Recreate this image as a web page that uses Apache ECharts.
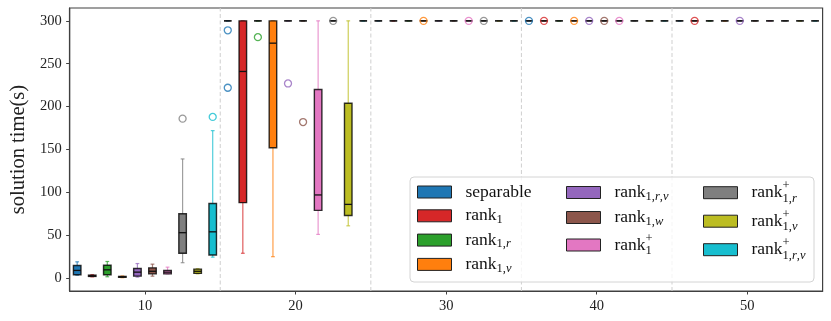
<!DOCTYPE html>
<html><head><meta charset="utf-8">
<script src="https://cdn.jsdelivr.net/npm/echarts@6/dist/echarts.min.js"></script>
<style>html,body{margin:0;padding:0;background:#fff}#c{width:831px;height:321px}</style>
</head><body><div id="c"></div>
<script>
// ---------------- data ----------------
const seriesNames = ['separable','rank1','rank1r','rank1v','rank1rv','rank1w','rank1p','rank1rp','rank1vp','rank1rvp'];
const groupStarts = [5, 15, 25, 35, 45];
const xTicks = [10, 20, 30, 40, 50];
const yTicks = [0, 50, 100, 150, 200, 250, 300];
const dividers = [15, 25, 35, 45];
// box stats per group: [lowWhisker, q1, median, q3, highWhisker]
const boxSeparable = [[3.5,4,9,14.8,19],[300,300,300,300,300],[300,300,300,300,300],[300,300,300,300,300],[300,300,300,300,300]];
const boxRank1     = [[1.5,2,2.5,3.5,4],[29,88,241,300,300],[300,300,300,300,300],[300,300,300,300,300],[300,300,300,300,300]];
const boxRank1r    = [[1.6,4,9.7,15,19.4],[300,300,300,300,300],[300,300,300,300,300],[300,300,300,300,300],[300,300,300,300,300]];
const boxRank1v    = [[0.5,1,1.5,2,2.5],[25,152,274,300,300],[300,300,300,300,300],[300,300,300,300,300],[300,300,300,300,300]];
const boxRank1rv   = [[1.2,2.3,7,11.3,17],[300,300,300,300,300],[300,300,300,300,300],[300,300,300,300,300],[300,300,300,300,300]];
const boxRank1w    = [[2.3,5,8,12,16.3],[300,300,300,300,300],[300,300,300,300,300],[300,300,300,300,300],[300,300,300,300,300]];
const boxRank1p    = [[5,5,7,9,12.8],[51,79,97,220,300],[300,300,300,300,300],[300,300,300,300,300],[300,300,300,300,300]];
const boxRank1rp   = [[18,29,53,75,139],[300,300,300,300,300],[300,300,300,300,300],[300,300,300,300,300],[300,300,300,300,300]];
const boxRank1vp   = [[5,5.5,8,10.5,11],[61,73,86,204,300],[300,300,300,300,300],[300,300,300,300,300],[300,300,300,300,300]];
const boxRank1rvp  = [[24.5,27,54,87,172],[300,300,300,300,300],[300,300,300,300,300],[300,300,300,300,300],[300,300,300,300,300]];
// outliers: [groupIndex, value]
const outSeparable = [[1,289],[1,222],[3,300]];
const outRank1     = [[3,300],[4,300]];
const outRank1r    = [[1,281]];
const outRank1v    = [[2,300],[3,300]];
const outRank1rv   = [[1,227],[3,300],[4,300]];
const outRank1w    = [[1,182],[3,300]];
const outRank1p    = [[2,300],[3,300]];
const outRank1rp   = [[0,186],[1,300],[2,300]];
const outRank1vp   = [];
const outRank1rvp  = [[0,188]];

const boxData = [boxSeparable,boxRank1,boxRank1r,boxRank1v,boxRank1rv,boxRank1w,boxRank1p,boxRank1rp,boxRank1vp,boxRank1rvp];
const outData = [outSeparable,outRank1,outRank1r,outRank1v,outRank1rv,outRank1w,outRank1p,outRank1rp,outRank1vp,outRank1rvp];

// ---------------- style ----------------
const colors = ['#1f77b4','#d62728','#2ca02c','#ff7f0e','#9467bd','#8c564b','#e377c2','#7f7f7f','#bcbd22','#17becf'];
const FONT = 'Liberation Serif';
const labelRich = {
  separable: 'separable',
  rank1: 'rank{sub|1}',
  rank1r: 'rank{sub|1,}{subi|r}',
  rank1v: 'rank{sub|1,}{subi|v}',
  rank1rv: 'rank{sub|1,}{subi|r}{sub|,}{subi|v}',
  rank1w: 'rank{sub|1,}{subi|w}',
  rank1p: 'rank{supz|+}{subs|1}',
  rank1rp: 'rank{supz|+}{subs|1,}{subsi|r}',
  rank1vp: 'rank{supz|+}{subs|1,}{subsi|v}',
  rank1rvp: 'rank{supz|+}{subs|1,}{subsi|r}{subs|,}{subsi|v}'
};
const LH = 20;
const rich = {
  sub:  {fontFamily: FONT, fontSize: 12.5, color: '#111', lineHeight: LH, padding: [8,0,0,0]},
  subi: {fontFamily: FONT, fontSize: 12.5, color: '#111', fontStyle: 'italic', lineHeight: LH, padding: [8,0,0,0]},
  subs: {fontFamily: FONT, fontSize: 12.5, color: '#111', lineHeight: LH, padding: [12,0,0,0]},
  subsi:{fontFamily: FONT, fontSize: 12.5, color: '#111', fontStyle: 'italic', lineHeight: LH, padding: [12,0,0,0]},
  supz: {fontFamily: FONT, fontSize: 12.5, color: '#111', lineHeight: LH, padding: [0,0,13,0], width: 0.01, align: 'left'}
};

function boxRenderer(color) {
  return function (params, api) {
    const x = api.value(0), lo = api.value(1), q1 = api.value(2), med = api.value(3), q3 = api.value(4), hi = api.value(5);
    const hw = 0.25, cw = 0.125;
    const tl = api.coord([x - hw, q3]), br = api.coord([x + hw, q1]);
    const pHi = api.coord([x, hi]), pQ3 = api.coord([x, q3]), pQ1 = api.coord([x, q1]), pLo = api.coord([x, lo]);
    const cHiL = api.coord([x - cw, hi]), cHiR = api.coord([x + cw, hi]);
    const cLoL = api.coord([x - cw, lo]), cLoR = api.coord([x + cw, lo]);
    const mL = api.coord([x - hw, med]), mR = api.coord([x + hw, med]);
    const wStyle = {stroke: color, lineWidth: 1.2, opacity: 0.75};
    return {type: 'group', children: [
      {type: 'line', shape: {x1: pHi[0], y1: pHi[1], x2: pQ3[0], y2: pQ3[1]}, style: wStyle},
      {type: 'line', shape: {x1: pLo[0], y1: pLo[1], x2: pQ1[0], y2: pQ1[1]}, style: wStyle},
      {type: 'line', shape: {x1: cHiL[0], y1: cHiL[1], x2: cHiR[0], y2: cHiR[1]}, style: wStyle},
      {type: 'line', shape: {x1: cLoL[0], y1: cLoL[1], x2: cLoR[0], y2: cLoR[1]}, style: wStyle},
      {type: 'rect', shape: {x: tl[0], y: tl[1], width: br[0] - tl[0], height: br[1] - tl[1]},
        style: {fill: color, stroke: 'rgba(0,0,0,0.8)', lineWidth: 1.4}},
      {type: 'line', shape: {x1: mL[0], y1: mL[1], x2: mR[0], y2: mR[1]}, style: {stroke: '#111', lineWidth: 1.3}}
    ]};
  };
}

const series = [];
// vertical dashed dividers
series.push({
  type: 'custom', name: '_div', silent: true, z: 1,
  data: dividers.map(v => [v]),
  renderItem: function (params, api) {
    const a = api.coord([api.value(0), -15]), b = api.coord([api.value(0), 315]);
    return {type: 'line', shape: {x1: a[0], y1: a[1], x2: b[0], y2: b[1]}, style: {stroke: '#cfcfcf', lineWidth: 1, lineDash: [4, 2.5]}};
  }
});
seriesNames.forEach((name, i) => {
  series.push({
    type: 'custom', name: name, z: 2,
    data: boxData[i].map((s, g) => [groupStarts[g] + i + 0.5].concat(s)),
    renderItem: boxRenderer(colors[i]),
    itemStyle: {color: colors[i]}
  });
  series.push({
    type: 'scatter', name: name, z: 5,
    symbol: 'circle', symbolSize: 7,
    itemStyle: {color: 'rgba(255,255,255,0)', borderColor: colors[i], borderWidth: 1.3},
    data: outData[i].map(o => [groupStarts[o[0]] + i + 0.5, o[1]])
  });
});

const legendCommon = {
  orient: 'vertical', itemWidth: 34, itemHeight: 12, selectedMode: false, padding: 0,
  formatter: n => labelRich[n],
  textStyle: {fontFamily: FONT, fontSize: 17.5, color: '#111', lineHeight: LH, padding: [0,0,0,9], rich: rich}
};
function legendItems(names) {
  return names.map(n => ({name: n, icon: 'rect', itemStyle: {color: colors[seriesNames.indexOf(n)], borderColor: '#222', borderWidth: 1}}));
}

const chart = echarts.init(document.getElementById('c'), null, {renderer: 'canvas'});
chart.setOption({
  animation: false,
  backgroundColor: '#fff',
  grid: {left: 64, right: 8.4, top: 8, bottom: 30, show: true, borderColor: '#404040', borderWidth: 1.2, backgroundColor: 'transparent'},
  xAxis: {
    type: 'value', min: 5, max: 55,
    axisLine: {show: true, onZero: false, lineStyle: {color: '#404040', width: 1.2}},
    axisTick: {show: true, length: 3.5, customValues: xTicks, lineStyle: {color: '#404040'}},
    axisLabel: {customValues: xTicks, fontFamily: FONT, fontSize: 14.5, color: '#222', margin: 8},
    splitLine: {show: false}
  },
  yAxis: {
    type: 'value', min: -15, max: 315,
    name: 'solution time(s)', nameLocation: 'middle', nameGap: 39,
    nameTextStyle: {fontFamily: FONT, fontSize: 20.5, color: '#222'},
    axisLine: {show: true, onZero: false, lineStyle: {color: '#404040', width: 1.2}},
    axisTick: {show: true, length: 3.5, customValues: yTicks, lineStyle: {color: '#404040'}},
    axisLabel: {customValues: yTicks, fontFamily: FONT, fontSize: 14.5, color: '#222', margin: 8},
    splitLine: {show: false}
  },
  graphic: [{type: 'rect', z: 3, shape: {x: 410, y: 177, width: 404, height: 105, r: 4},
    style: {fill: 'rgba(255,255,255,0.8)', stroke: '#d4d4d4', lineWidth: 1}}],
  legend: [
    Object.assign({}, legendCommon, {left: 417, top: 182, itemGap: 3.3, data: legendItems(['separable','rank1','rank1r','rank1v'])}),
    Object.assign({}, legendCommon, {left: 566, top: 182, itemGap: 4, data: legendItems(['rank1rv','rank1w','rank1p'])}),
    Object.assign({}, legendCommon, {left: 703, top: 179.7, itemGap: 2.5, data: legendItems(['rank1rp','rank1vp','rank1rvp'])})
  ],
  series: series
});
</script></body></html>
